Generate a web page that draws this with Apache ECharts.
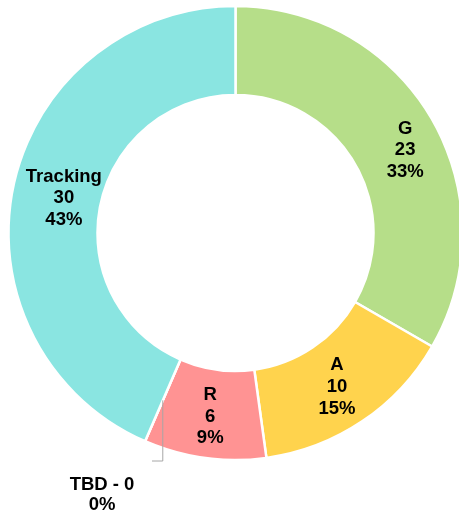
<!DOCTYPE html>
<html>
<head>
<meta charset="utf-8">
<script src="https://cdn.jsdelivr.net/npm/echarts@6/dist/echarts.min.js"></script>
<style>
html,body{margin:0;padding:0;background:#fff;}
#chart{width:459px;height:514px;}
</style>
</head>
<body>
<div id="chart"></div>
<script>
const categories = ['G', 'A', 'R', 'TBD', 'Tracking'];
const values = [23, 10, 6, 0, 30];

const palette = ['#b6de89', '#ffd34d', '#ff9393', '#bfbfbf', '#8ae5e1'];
const labelFont = { fontFamily: 'Liberation Sans, Arial, sans-serif', fontWeight: 'bold', fontSize: 18.5, lineHeight: 21.6, color: '#000' };
const insideOffsets = { G: [9, 10], A: [-2, 0], Tracking: [10, 3] };

const mainData = categories.map((c, i) => {
  const item = { name: c, value: values[i], itemStyle: { color: palette[i] } };
  if (c === 'TBD') item.label = { show: false };
  else if (insideOffsets[c]) item.label = { offset: insideOffsets[c] };
  return item;
});
const overlayData = categories.map((c, i) => ({
  name: c, value: values[i],
  label: { show: c === 'TBD' },
  labelLine: { show: c === 'TBD' }
}));

const chart = echarts.init(document.getElementById('chart'), null, { renderer: 'canvas' });
chart.setOption({
  animation: false,
  series: [
    {
      type: 'pie',
      center: [235.5, 233],
      radius: [138, 227],
      startAngle: 90,
      clockwise: true,
      percentPrecision: 0,
      silent: true,
      itemStyle: { borderColor: '#ffffff', borderWidth: 2.5 },
      label: Object.assign({
        show: true, position: 'inside', align: 'center',
        formatter: p => p.name + '\n' + p.value + '\n' + p.percent + '%'
      }, labelFont),
      labelLine: { show: false },
      data: mainData
    },
    {
      type: 'pie',
      center: [235.5, 233],
      radius: [0, 182.5],
      startAngle: 90,
      clockwise: true,
      percentPrecision: 0,
      silent: true,
      z: 3,
      itemStyle: { color: 'rgba(0,0,0,0)', borderWidth: 0 },
      label: Object.assign({
        position: 'outside', align: 'center',
        formatter: p => p.name + ' - ' + p.value + '\n' + p.percent + '%'
      }, labelFont, { lineHeight: 20 }),
      labelLine: { lineStyle: { color: '#a6a6a6', width: 1 }, length: 20, length2: 10 },
      labelLayout: function (params) {
        if (categories[params.dataIndex] !== 'TBD' || !params.labelLinePoints) return {};
        const p0 = params.labelLinePoints[0];
        return {
          x: 102, y: 495, align: 'center', verticalAlign: 'middle',
          labelLinePoints: [[p0[0], p0[1]], [p0[0], 461], [152, 461]]
        };
      },
      data: overlayData
    }
  ]
});
</script>
</body>
</html>
